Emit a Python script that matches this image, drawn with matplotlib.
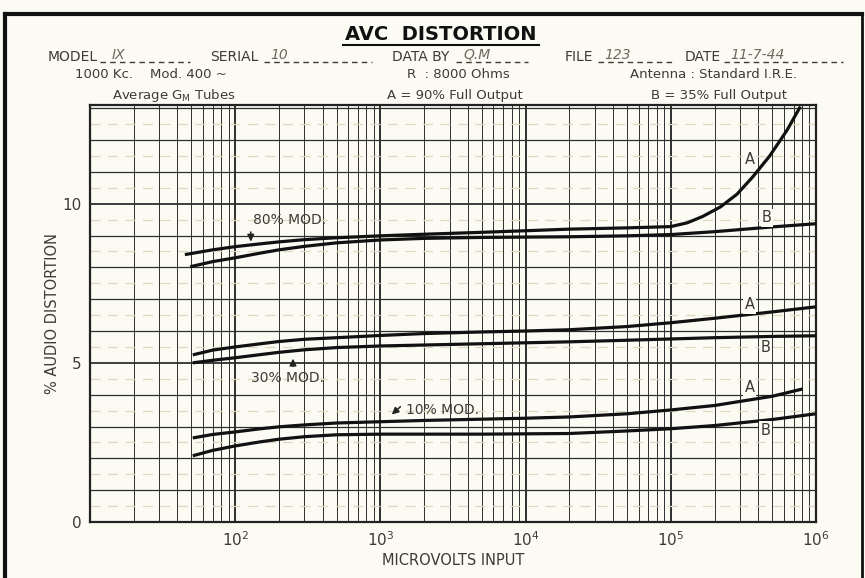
import numpy as np
import matplotlib
matplotlib.use("Agg")
import matplotlib.pyplot as plt
from matplotlib.lines import Line2D
from matplotlib.ticker import FixedLocator, NullFormatter

# ---------------- data ----------------
x_80A = [45, 70, 100, 150, 200, 300, 500, 1000, 2000, 5000, 10000, 20000, 50000,
         100000, 130000, 166000, 220000, 286000, 368000, 480000, 630000, 780000]
y_80A = [8.40, 8.55, 8.65, 8.74, 8.80, 8.87, 8.93, 8.99, 9.04, 9.10, 9.15, 9.20, 9.24,
         9.28, 9.40, 9.60, 9.90, 10.30, 10.85, 11.50, 12.30, 13.05]

x_80B = [49, 70, 100, 150, 200, 300, 500, 1000, 2000, 5000, 10000, 20000, 50000,
         100000, 200000, 500000, 1000000]
y_80B = [8.02, 8.18, 8.30, 8.45, 8.55, 8.66, 8.77, 8.86, 8.91, 8.94, 8.95, 8.96, 8.99,
         9.03, 9.12, 9.27, 9.37]

x_30A = [51, 70, 100, 150, 200, 300, 500, 1000, 2000, 5000, 10000, 20000, 50000,
         100000, 200000, 500000, 1000000]
y_30A = [5.25, 5.40, 5.50, 5.60, 5.67, 5.74, 5.79, 5.86, 5.92, 5.97, 6.00, 6.04, 6.14,
         6.26, 6.40, 6.60, 6.76]

x_30B = [51, 70, 100, 150, 200, 300, 500, 1000, 2000, 5000, 10000, 20000, 50000,
         100000, 200000, 500000, 1000000]
y_30B = [5.00, 5.08, 5.16, 5.26, 5.33, 5.41, 5.48, 5.53, 5.56, 5.60, 5.63, 5.66, 5.71,
         5.75, 5.79, 5.83, 5.85]

x_10A = [51, 70, 100, 150, 200, 300, 500, 1000, 2000, 5000, 10000, 20000, 50000,
         100000, 200000, 500000, 810000]
y_10A = [2.64, 2.75, 2.83, 2.93, 2.99, 3.05, 3.11, 3.15, 3.19, 3.23, 3.26, 3.30, 3.40,
         3.52, 3.66, 3.95, 4.18]

x_10B = [51, 70, 100, 150, 200, 300, 500, 1000, 2000, 5000, 10000, 20000, 50000,
         100000, 200000, 500000, 1000000]
y_10B = [2.08, 2.25, 2.39, 2.52, 2.60, 2.68, 2.74, 2.76, 2.76, 2.76, 2.77, 2.78, 2.86,
         2.93, 3.03, 3.22, 3.40]

x_ticks = [1e2, 1e3, 1e4, 1e5, 1e6]
x_ticklabels = [r"$10^2$", r"$10^3$", r"$10^4$", r"$10^5$", r"$10^6$"]
y_ticks = [0, 5, 10]
y_ticklabels = ["0", "5", "10"]

# ---------------- style ----------------
BG = "#fbfbf4"
INK = "#3c3c34"
GRID = "#2e2e2e"
FONT = "DejaVu Sans"
plt.rcParams["font.family"] = [FONT]

fig = plt.figure(figsize=(8.65, 5.78), dpi=100, facecolor=BG)
ax = fig.add_axes([90/865, 1-522/578, (816-90)/865, (522-105)/578])
ax.set_facecolor(BG)
ax.set_xscale("log")
ax.set_xlim(10, 1e6)
ax.set_ylim(0, 13.1)

# grid: vertical log lines
minor_x = [m * 10**e for e in range(1, 6) for m in range(2, 10)]
for xv in minor_x:
    ax.axvline(xv, color=GRID, lw=0.7, zorder=1)
for e in range(1, 7):
    ax.axvline(10**e, color=GRID, lw=1.4, zorder=1)
# horizontal: integer lines dark, half-lines faint
for yv in range(0, 14):
    ax.axhline(yv, color=GRID, lw=0.9 if yv % 5 else 1.3, zorder=1)
for yv in np.arange(0.5, 13.1, 1.0):
    ax.axhline(yv, color="#dcd9c2", lw=0.9, ls=(0, (8, 6)), zorder=1)

# curves
for xs, ys in [(x_80A, y_80A), (x_80B, y_80B), (x_30A, y_30A),
               (x_30B, y_30B), (x_10A, y_10A), (x_10B, y_10B)]:
    ax.plot(xs, ys, color="#111111", lw=2.3, solid_capstyle="butt",
            solid_joinstyle="round", zorder=3, clip_on=True)

# ticks
ax.xaxis.set_major_locator(FixedLocator(x_ticks))
ax.set_xticklabels(x_ticklabels)
ax.xaxis.set_minor_formatter(NullFormatter())
ax.set_yticks(y_ticks)
ax.set_yticklabels(y_ticklabels)
ax.tick_params(axis="both", which="both", length=0, colors=INK, labelsize=11, pad=6)
for lab in ax.get_xticklabels():
    lab.set_color(INK)
for lab in ax.get_yticklabels():
    lab.set_color(INK)
for s in ax.spines.values():
    s.set_color("#222222")
    s.set_linewidth(1.6)

ax.set_xlabel("MICROVOLTS INPUT", color=INK, fontsize=10.5, labelpad=3)
ax.set_ylabel("% AUDIO DISTORTION", color=INK, fontsize=10.5, labelpad=2)

# annotations
txtkw = dict(color=INK, fontsize=10, zorder=5)
akw = dict(arrowstyle="-|>", color="#222222", lw=1.1, mutation_scale=10)
ax.text(238, 9.5, "80% MOD.", ha="center", va="center", **txtkw)
ax.annotate("", xy=(128, 8.72), xytext=(128, 9.2), arrowprops=akw)
ax.text(231, 4.53, "30% MOD.", ha="center", va="center", **txtkw)
ax.annotate("", xy=(250, 5.22), xytext=(250, 4.8), arrowprops=akw)
ax.text(2700, 3.52, "10% MOD.", ha="center", va="center", **txtkw)
ax.annotate("", xy=(1160, 3.32), xytext=(1420, 3.68), arrowprops=akw)

for xv, yv, s in [(3.5e5, 11.38, "A"), (4.6e5, 9.56, "B"), (3.5e5, 6.82, "A"),
                  (4.5e5, 5.47, "B"), (3.5e5, 4.21, "A"), (4.5e5, 2.89, "B")]:
    ax.text(xv, yv, s, ha="center", va="center", color=INK, fontsize=10.5,
            bbox=dict(boxstyle="square,pad=0.1", fc=BG, ec="none"), zorder=5)

# ---------------- header ----------------
def fx(px):
    return px / 865

def fy(py):
    return 1 - py / 578

fig.text(fx(441), fy(35), "AVC  DISTORTION", ha="center", va="center",
         fontsize=14, color="#111111", fontweight="bold")
fig.add_artist(Line2D([fx(343), fx(539)], [fy(45), fy(45)], color="#111111", lw=1.5))

row2 = fy(57)
fields = [("MODEL", 48, 100, 190, "IX", 112),
          ("SERIAL", 210, 264, 372, "10", 270),
          ("DATA BY", 392, 456, 528, "Q.M", 463),
          ("FILE", 565, 598, 672, "123", 604),
          ("DATE", 685, 724, 843, "11-7-44", 730)]
for lab, x0, dx0, dx1, val, vx in fields:
    fig.text(fx(x0), row2, lab, ha="left", va="center", fontsize=10, color=INK)
    fig.add_artist(Line2D([fx(dx0), fx(dx1)], [fy(62), fy(62)], color=INK, lw=1,
                          ls=(0, (4, 3))))
    fig.text(fx(vx), fy(55), val, ha="left", va="center", fontsize=10,
             color="#6a6a5e", style="italic")

r3 = fy(74)
fig.text(fx(75), r3, "1000 Kc.    Mod. 400 ~", ha="left", va="center", fontsize=9.5, color=INK)
fig.text(fx(458), r3, "R  : 8000 Ohms", ha="center", va="center", fontsize=9.5, color=INK)
fig.text(fx(713), r3, "Antenna : Standard I.R.E.", ha="center", va="center", fontsize=9.5, color=INK)

r4 = fy(95)
fig.text(fx(174), r4, r"Average G$_\mathregular{M}$ Tubes", ha="center", va="center", fontsize=9.5, color=INK)
fig.text(fx(455), r4, "A = 90% Full Output", ha="center", va="center", fontsize=9.5, color=INK)
fig.text(fx(719), r4, "B = 35% Full Output", ha="center", va="center", fontsize=9.5, color=INK)

# outer frame
fig.add_artist(Line2D([0.006, 0.006], [0.0, 0.975], color="#111111", lw=3))
fig.add_artist(Line2D([0.006, 0.997], [0.975, 0.975], color="#111111", lw=3))
fig.add_artist(Line2D([0.997, 0.997], [0.0, 0.975], color="#111111", lw=2))

fig.savefig("out.png", dpi=100, facecolor=BG)
